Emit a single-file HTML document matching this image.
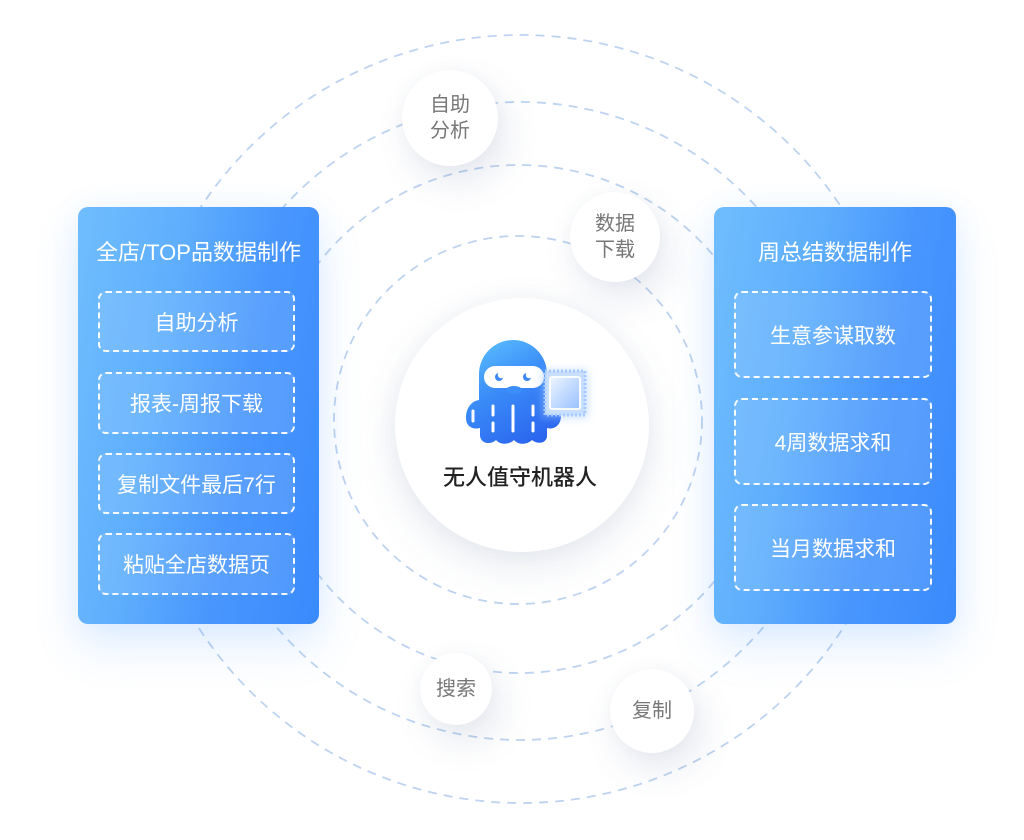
<!DOCTYPE html>
<html>
<head>
<meta charset="utf-8">
<style>
  html,body{margin:0;padding:0;background:#ffffff;}
  body{width:1024px;height:840px;position:relative;overflow:hidden;
    font-family:"Liberation Sans","Noto Sans CJK SC",sans-serif;}
  .abs{position:absolute;}
  svg.rings{position:absolute;left:0;top:0;}
  .center{position:absolute;left:395px;top:298px;width:254px;height:254px;border-radius:50%;
    background:#fff;box-shadow:0 14px 40px rgba(70,90,140,0.13),0 0 20px rgba(70,90,140,0.05);}
  .dot{position:absolute;border-radius:50%;background:#fff;
    box-shadow:8px 16px 36px rgba(70,90,140,0.14),0 0 14px rgba(70,90,140,0.04);
    display:flex;align-items:center;justify-content:center;text-align:center;
    color:#777;font-size:20px;line-height:26px;}
  .panel{position:absolute;border-radius:10px;
    background:linear-gradient(100deg,#70bdfd 0%,#5eaefd 35%,#4896fd 65%,#3a8afd 100%);
    box-shadow:0 22px 45px rgba(70,150,255,0.16),0 0 30px rgba(70,150,255,0.08);}
  .ptitle{position:absolute;left:0;right:0;text-align:center;color:#fff;font-size:22px;line-height:26px;}
  .box{position:absolute;border:2px dashed rgba(255,255,255,0.95);border-radius:8px;
    background:rgba(255,255,255,0.1);box-sizing:border-box;
    display:flex;align-items:center;justify-content:center;color:#fff;font-size:21px;}
  .label{position:absolute;left:393px;width:254px;top:465px;text-align:center;
    font-size:22px;color:#222;font-weight:500;line-height:26px;}
</style>
</head>
<body>

<svg class="rings" width="1024" height="840" viewBox="0 0 1024 840">
  <g fill="none" stroke="#bdd3f0" stroke-width="1.8" stroke-dasharray="9 7">
    <circle cx="518" cy="420" r="184"/>
    <circle cx="519" cy="419" r="254"/>
    <circle cx="520" cy="421" r="319"/>
    <circle cx="521" cy="419" r="384"/>
  </g>
</svg>

<!-- left panel -->
<div class="panel" style="left:78px;top:207px;width:241px;height:417px;">
  <div class="ptitle" style="top:33px;">全店/TOP品数据制作</div>
  <div class="box" style="left:20px;top:84px;width:197px;height:61px;">自助分析</div>
  <div class="box" style="left:20px;top:165px;width:197px;height:62px;">报表-周报下载</div>
  <div class="box" style="left:20px;top:246px;width:197px;height:61px;">复制文件最后7行</div>
  <div class="box" style="left:20px;top:326px;width:197px;height:62px;">粘贴全店数据页</div>
</div>

<!-- right panel -->
<div class="panel" style="left:714px;top:207px;width:242px;height:417px;">
  <div class="ptitle" style="top:33px;">周总结数据制作</div>
  <div class="box" style="left:20px;top:84px;width:198px;height:87px;">生意参谋取数</div>
  <div class="box" style="left:20px;top:191px;width:198px;height:87px;">4周数据求和</div>
  <div class="box" style="left:20px;top:297px;width:198px;height:87px;">当月数据求和</div>
</div>

<!-- small circles -->
<div class="dot" style="left:402px;top:70px;width:96px;height:96px;">自助<br>分析</div>
<div class="dot" style="left:570px;top:192px;width:90px;height:90px;">数据<br>下载</div>
<div class="dot" style="left:420px;top:653px;width:72px;height:72px;">搜索</div>
<div class="dot" style="left:610px;top:669px;width:84px;height:84px;">复制</div>

<!-- center -->
<div class="center"></div>

<svg class="abs" style="left:0;top:0;" width="1024" height="840" viewBox="0 0 1024 840">
  <defs>
    <linearGradient id="body" gradientUnits="userSpaceOnUse" x1="480" y1="338" x2="540" y2="444">
      <stop offset="0" stop-color="#5cc0ff"/>
      <stop offset="0.45" stop-color="#3a8cf8"/>
      <stop offset="1" stop-color="#2a63ee"/>
    </linearGradient>
    <linearGradient id="chip" x1="0" y1="0" x2="1" y2="1">
      <stop offset="0" stop-color="#eef5ff"/>
      <stop offset="1" stop-color="#97c0ff"/>
    </linearGradient>
    <filter id="glow" x="-50%" y="-50%" width="200%" height="200%">
      <feGaussianBlur stdDeviation="4"/>
    </filter>
  </defs>
  <!-- body -->
  <path fill="url(#body)" d="M479,402 V374 A34,34 0 0 1 547,374 V402 Z"/>
  <path fill="url(#body)" d="M466,418 C466,406 474,399 482,400 L544,400 C552,399 561,406 561,416
     C561,426 553,430 547,428 L547,436 C547,443 538,445 532,440 C527,445 518,445 514,440
     C509,445 500,445 496,440 C491,445 481,444 480,436 L480,428 C472,430 466,426 466,418 Z"/>
  <!-- mask -->
  <rect x="484" y="366" width="60" height="22" rx="11" fill="#fff"/>
  <ellipse cx="514" cy="390" rx="8" ry="4" fill="#3c8ef8"/>
  <!-- eyes -->
  <circle cx="499" cy="377" r="4" fill="#3b86f5"/>
  <circle cx="501" cy="375" r="3.2" fill="#fff"/>
  <circle cx="527" cy="377" r="4" fill="#3b86f5"/>
  <circle cx="529" cy="375" r="3.2" fill="#fff"/>
  <!-- tentacle stripes -->
  <g stroke="#fff" stroke-width="3" stroke-linecap="round">
    <line x1="473" y1="411" x2="473" y2="421"/>
    <line x1="493" y1="406" x2="493" y2="415"/>
    <line x1="493" y1="423" x2="493" y2="431"/>
    <line x1="513" y1="406" x2="513" y2="431"/>
    <line x1="533" y1="406" x2="533" y2="415"/>
    <line x1="533" y1="423" x2="533" y2="431"/>
  </g>
  <!-- chip -->
  <rect x="542" y="370" width="46" height="48" fill="#9fc6ff" opacity="0.5" filter="url(#glow)"/>
  <rect x="545" y="371" width="40" height="44" fill="#c9dfff" stroke="#a8cbff" stroke-width="3" stroke-dasharray="2 2"/>
  <rect x="550" y="377" width="30" height="32" rx="2" fill="url(#chip)" stroke="#fff" stroke-width="1.8"/>
</svg>

<div class="label">无人值守机器人</div>

</body>
</html>
